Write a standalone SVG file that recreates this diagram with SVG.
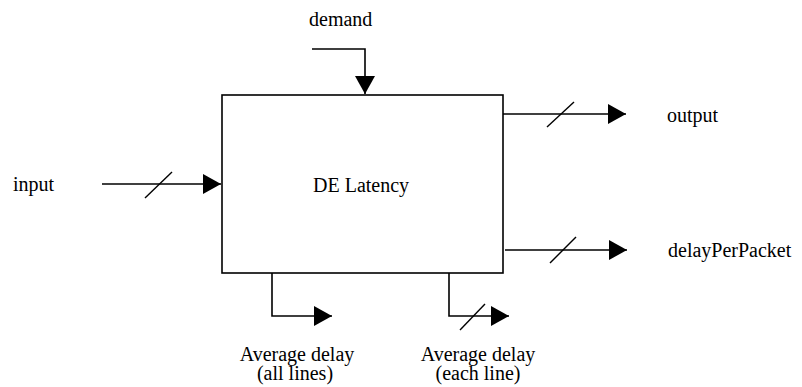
<svg xmlns="http://www.w3.org/2000/svg" width="802" height="387" viewBox="0 0 802 387">
<style>
text{font-family:"Liberation Serif","Times New Roman",serif;font-size:20px;fill:#000}
.c{fill:none;stroke:#000;stroke-width:1.6}
.s{stroke:#000;stroke-width:1.4}
.box{fill:#fff;stroke:#000;stroke-width:1.6}
</style>
<defs>
<marker id="a" viewBox="0 0 18 20" refX="18" refY="10" markerWidth="18" markerHeight="20" markerUnits="userSpaceOnUse" orient="auto">
<path d="M0,0 L18,10 L0,20 Z" fill="#000"/>
</marker>
</defs>
<g id="latency">
<rect class="box" x="222" y="95" width="281" height="178"/>
<text x="313" y="192">DE Latency</text>
</g>
<g id="input"><text x="13" y="191">input</text></g>
<g id="demand"><text x="309" y="26">demand</text></g>
<g id="output"><text x="667" y="122">output</text></g>
<g id="delayPerPacket"><text x="668" y="257">delayPerPacket</text></g>
<g id="avgAll"><text x="297" y="361" text-anchor="middle">Average delay</text><text x="295" y="380" text-anchor="middle">(all lines)</text></g>
<g id="avgEach"><text x="478" y="361" text-anchor="middle">Average delay</text><text x="478" y="380" text-anchor="middle">(each line)</text></g>
<g id="connectors">
<path class="c" d="M102,184 H221" marker-end="url(#a)"/>
<line class="s" x1="145" y1="198" x2="172" y2="172"/>
<path class="c" d="M312,49 H365 V94" marker-end="url(#a)"/>
<path class="c" d="M503,114 H626" marker-end="url(#a)"/>
<line class="s" x1="547" y1="127" x2="574" y2="102"/>
<path class="c" d="M505,250 H627" marker-end="url(#a)"/>
<line class="s" x1="550" y1="263" x2="576" y2="237"/>
<path class="c" d="M272,273 V316 H332" marker-end="url(#a)"/>
<path class="c" d="M449,273 V316 H509" marker-end="url(#a)"/>
<line class="s" x1="460" y1="330" x2="485" y2="304"/>
</g>
</svg>
